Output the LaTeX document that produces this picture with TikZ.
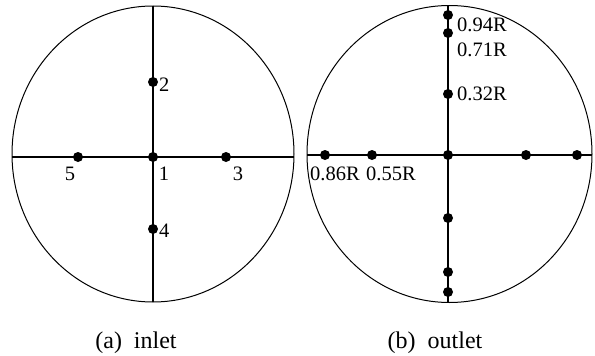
\documentclass[tikz,border=0pt]{standalone}
\usepackage{fontspec}
\setmainfont{Liberation Serif}
\begin{document}
\begin{tikzpicture}[x=1pt,y=-1pt,
  dot/.style={circle,fill=black,inner sep=0pt,minimum size=10pt},
  lbl/.style={font=\fontsize{20.5}{22}\selectfont,inner sep=0pt},
  captext/.style={font=\fontsize{24}{26}\selectfont,inner sep=0pt},
  rim/.style={line width=1pt},
  axis/.style={line width=1.1pt}]
\useasboundingbox (0,0) rectangle (595,356);
% left circle
\draw[rim] (153,154) ellipse [x radius=141, y radius=148];
\coordinate (lt) at (153,6);
\coordinate (lb) at (153,302);
\coordinate (ll) at (12,157);
\coordinate (lr) at (294,157);
\draw[axis] (lt) -- (lb);
\draw[axis] (ll) -- (lr);
\node[dot] (p1) at (153,157) {};
\node[dot] (p2) at (153,82) {};
\node[dot] (p3) at (226,157) {};
\node[dot] (p4) at (153,229) {};
\node[dot] (p5) at (78,157) {};
\node[lbl,anchor=west] (t2) at (159,85) {2};
\node[lbl] (t1) at (164,174) {1};
\node[lbl] (t3) at (238,174) {3};
\node[lbl] (t5) at (70,174) {5};
\node[lbl,anchor=west] (t4) at (159,231) {4};
% right circle
\draw[rim] (449.5,154) ellipse [x radius=142.5, y radius=148.5];
\coordinate (rt) at (448,5);
\coordinate (rb) at (448,303);
\coordinate (rl) at (307,155);
\coordinate (rr) at (592,155);
\draw[axis] (rt) -- (rb);
\draw[axis] (rl) -- (rr);
\node[dot] (q0) at (448,155) {};
\node[dot] (q1) at (448,15) {};
\node[dot] (q2) at (448,33) {};
\node[dot] (q3) at (448,94) {};
\node[dot] (q4) at (448,218) {};
\node[dot] (q5) at (448,272) {};
\node[dot] (q6) at (448,292) {};
\node[dot] (q7) at (325,155) {};
\node[dot] (q8) at (372,155) {};
\node[dot] (q9) at (526,155) {};
\node[dot] (q10) at (577,155) {};
\node[lbl,anchor=west] (s1) at (457,25) {0.94R};
\node[lbl,anchor=west] (s2) at (457,50) {0.71R};
\node[lbl,anchor=west] (s3) at (457,94) {0.32R};
\node[lbl,anchor=west] (s4) at (310,174) {0.86R};
\node[lbl,anchor=west] (s5) at (366,174) {0.55R};
% captions
\node[captext] (ca) at (136,343) {(a)\ \ inlet};
\node[captext] (cb) at (435,343) {(b)\ \ outlet};
\end{tikzpicture}
\end{document}
